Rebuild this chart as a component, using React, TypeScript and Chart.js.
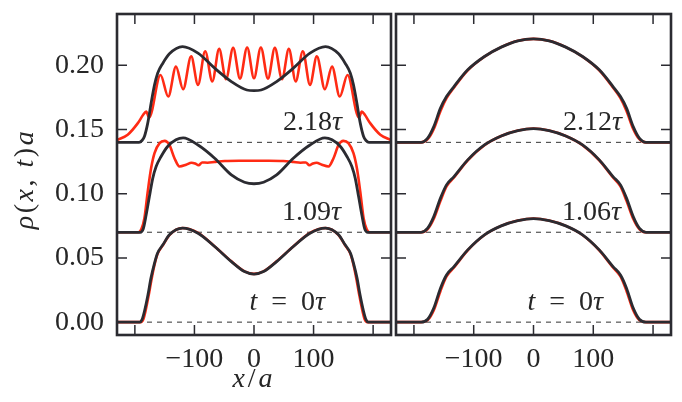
import { useEffect, useRef } from "react";
import { Chart, registerables } from "chart.js";
Chart.register(...registerables);

const FONT = "Liberation Serif, DejaVu Serif, serif";
const INK = "#262626";
const BLACK = "#2b2b31";
const RED = "#ff2b14";
const DASH = "#555555";

// ---- axes ----
const xTicks = [-200, -100, 0, 100, 200];
const xTickLabels = ["", "\u2212100", "0", "100", ""];
const yTicks = [0, 0.05, 0.1, 0.15, 0.2];
const yTickLabels = ["0.00", "0.05", "0.10", "0.15", "0.20"];
const baselines = [0, 0.07, 0.14];

// ---- left panel ----
const xL0k = [-230,-192,-188,-184,-178,-173,-167,-162,-153,-142,-120,-94,-66,-38,-16,0,16,38,66,94,120,142,153,162,167,173,178,184,188,192,230];
const yL0k = [0,0,0.002,0.0083,0.0213,0.0343,0.046,0.0537,0.0602,0.068,0.0732,0.0693,0.0589,0.0472,0.0394,0.0374,0.0394,0.0472,0.0589,0.0693,0.0732,0.068,0.0602,0.0537,0.046,0.0343,0.0213,0.0083,0.002,0,0];
const xL0r = [-230,-190,-186,-182,-177,-172,-167,-162,-153,-142,-120,-94,-66,-38,-16,0,16,38,66,94,120,142,153,162,167,172,177,182,186,190,230];
const yL0r = [0,0,0.002,0.009,0.0205,0.0335,0.0448,0.053,0.0598,0.0678,0.0733,0.0695,0.059,0.0474,0.0396,0.0376,0.0396,0.0474,0.059,0.0695,0.0733,0.0678,0.0598,0.053,0.0448,0.0335,0.0205,0.009,0.002,0,0];

const xL1k = [-230,-191,-186,-181,-175.6,-170,-164.3,-156,-145,-131,-119,-94,-66,-38,-16,0,16,38,66,94,119,131,145,156,164.3,170,175.6,181,186,191,230];
const yL1k = [0.07,0.07,0.0725,0.0836,0.0978,0.112,0.1212,0.129,0.1368,0.142,0.1435,0.138,0.1277,0.1147,0.109,0.1078,0.109,0.1147,0.1277,0.138,0.1435,0.142,0.1368,0.129,0.1212,0.112,0.0978,0.0836,0.0725,0.07,0.07];
const xL1r = [-230,-194,-189,-184,-178.4,-172.7,-167,-158.5,-150,-142,-133.5,-125,-114,-105,-99,-93,-87,-78,-66,-49,-25,0,25,49,66,78,87,93,99,105,114,125,133.5,142,150,158.5,167,172.7,178.4,184,189,194,230];
const yL1r = [0.07,0.07,0.0725,0.081,0.1017,0.12,0.1316,0.1394,0.1412,0.138,0.1277,0.1212,0.1226,0.1242,0.1236,0.1222,0.1244,0.1242,0.1248,0.1255,0.1257,0.1257,0.1257,0.1255,0.1248,0.1242,0.1244,0.1222,0.1236,0.1242,0.1226,0.1212,0.1277,0.138,0.1412,0.1394,0.1316,0.12,0.1017,0.081,0.0725,0.07,0.07];

const xL2k = [-230,-193,-188,-184,-178.4,-172.7,-167,-161.6,-153,-142,-120,-94,-66,-38,-12,0,12,38,66,94,120,142,153,161.6,167,172.7,178.4,184,188,193,230];
const yL2k = [0.14,0.14,0.1415,0.1446,0.155,0.1706,0.1848,0.194,0.2017,0.209,0.2146,0.2095,0.1978,0.1874,0.1808,0.1803,0.1808,0.1874,0.1978,0.2095,0.2146,0.209,0.2017,0.194,0.1848,0.1706,0.155,0.1446,0.1415,0.14,0.14];
const xL2r = [-230,-212,-195,-186,-181,-176,-157,-144,-131,-119,-105.5,-94,-82,-70,-58.5,-47,-35,-23.5,-11.5,0,11.5,23.5,35,47,58.5,70,82,94,105.5,119,131,144,157,176,181,186,195,212,230];
const yL2r = [0.1418,0.146,0.155,0.1615,0.164,0.1595,0.1925,0.1757,0.199,0.1814,0.207,0.1848,0.211,0.1875,0.2128,0.1892,0.2136,0.1897,0.2139,0.19,0.2139,0.1897,0.2136,0.1892,0.2128,0.1875,0.211,0.1848,0.207,0.1814,0.199,0.1757,0.1925,0.1595,0.164,0.1615,0.155,0.146,0.1418];

// ---- right panel ----
const xR = [-230,-188,-177,-166.8,-155.6,-145.5,-133,-110,-82,-54,-26,0,26,54,82,110,133,145.5,155.6,166.8,177,188,230];
const yR0k = [0,0,0.0023,0.011,0.0265,0.0368,0.0433,0.0563,0.068,0.075,0.0791,0.0807,0.0791,0.075,0.068,0.0563,0.0433,0.0368,0.0265,0.011,0.0023,0,0];
const yR0r = [0,0,0.0016,0.0093,0.0243,0.0356,0.0426,0.056,0.0679,0.075,0.0791,0.0807,0.0791,0.075,0.0679,0.056,0.0426,0.0356,0.0243,0.0093,0.0016,0,0];
const yR1k = [0.07,0.07,0.0732,0.0822,0.0966,0.1069,0.1134,0.1264,0.138,0.145,0.1492,0.1508,0.1492,0.145,0.138,0.1264,0.1134,0.1069,0.0966,0.0822,0.0732,0.07,0.07];
const yR1r = [0.07,0.07,0.0725,0.0805,0.0945,0.1058,0.1127,0.1261,0.1379,0.145,0.1492,0.1508,0.1492,0.145,0.1379,0.1261,0.1127,0.1058,0.0945,0.0805,0.0725,0.07,0.07];
const yR2k = [0.14,0.14,0.1433,0.1523,0.1667,0.1757,0.1835,0.1965,0.2069,0.2142,0.2191,0.2206,0.2191,0.2142,0.2069,0.1965,0.1835,0.1757,0.1667,0.1523,0.1433,0.14,0.14];
const yR2r = [0.14,0.14,0.1425,0.1505,0.1645,0.1745,0.1828,0.1962,0.2068,0.2142,0.2191,0.2206,0.2191,0.2142,0.2068,0.1962,0.1828,0.1745,0.1645,0.1505,0.1425,0.14,0.14];

const pts = (xs: number[], ys: number[]) => xs.map((x, i) => ({ x, y: ys[i] }));

type Seg = { t: string; i?: boolean };
type Label = { segs: Seg[]; x: number; y: number; size: number; align: "right" | "center" | "left"; rotate?: boolean; spacing?: number };

function drawSegs(ctx: CanvasRenderingContext2D, l: Label) {
  const fontOf = (it?: boolean) => `${it ? "italic " : ""}${l.size}px ${FONT}`;
  const sp = l.spacing || 0;
  const widths = l.segs.map((s) => {
    ctx.font = fontOf(s.i);
    return ctx.measureText(s.t).width + sp * s.t.length;
  });
  const total = widths.reduce((a, b) => a + b, 0);
  ctx.save();
  ctx.translate(l.x, l.y);
  if (l.rotate) ctx.rotate(-Math.PI / 2);
  let cx = l.align === "right" ? -total : l.align === "center" ? -total / 2 : 0;
  ctx.textAlign = "left";
  ctx.textBaseline = "alphabetic";
  l.segs.forEach((s, k) => {
    ctx.font = fontOf(s.i);
    if (sp) {
      let xx = cx;
      for (const ch of s.t) {
        ctx.fillText(ch, xx, 0);
        xx += ctx.measureText(ch).width + sp;
      }
    } else {
      ctx.fillText(s.t, cx, 0);
    }
    cx += widths[k];
  });
  ctx.restore();
}

const decor = {
  id: "decor",
  afterDraw(chart: any, _args: any, opts: any) {
    const { ctx, chartArea: a } = chart;
    const x = chart.scales.x;
    const y = chart.scales.y;
    ctx.save();
    ctx.strokeStyle = BLACK;
    ctx.lineWidth = 1.5;
    ctx.beginPath();
    xTicks.forEach((v) => {
      const px = x.getPixelForValue(v);
      ctx.moveTo(px, a.bottom);
      ctx.lineTo(px, a.bottom - 10);
      ctx.moveTo(px, a.top);
      ctx.lineTo(px, a.top + 10);
    });
    yTicks.forEach((v) => {
      const py = y.getPixelForValue(v);
      ctx.moveTo(a.left, py);
      ctx.lineTo(a.left + 10, py);
      ctx.moveTo(a.right, py);
      ctx.lineTo(a.right - 10, py);
    });
    ctx.stroke();
    ctx.lineWidth = 2.6;
    ctx.strokeRect(a.left, a.top, a.right - a.left, a.bottom - a.top);
    ctx.fillStyle = INK;
    (opts.labels || []).forEach((l: Label) => drawSegs(ctx, l));
    ctx.restore();
  },
};

function makeConfig(curves: { k: { x: number; y: number }[]; r: { x: number; y: number }[] }[], side: "left" | "right", labels: Label[]): any {
  const datasets: any[] = [];
  curves.forEach((c) => {
    datasets.push({ data: c.k, borderColor: BLACK, borderWidth: 2.8, order: 0, cubicInterpolationMode: "monotone", pointRadius: 0 });
  });
  curves.forEach((c) => {
    datasets.push({ data: c.r, borderColor: RED, borderWidth: 2.6, order: 1, cubicInterpolationMode: "monotone", pointRadius: 0 });
  });
  baselines.forEach((b) => {
    datasets.push({ data: pts([-230, 230], [b, b]), borderColor: DASH, borderWidth: 1.2, borderDash: [5, 5], order: 2, pointRadius: 0 });
  });
  const isLeft = side === "left";
  return {
    type: "line",
    data: { datasets },
    plugins: [decor],
    options: {
      responsive: false,
      animation: false,
      events: [],
      layout: { padding: { left: isLeft ? 0 : 2, right: isLeft ? 3 : 11, top: 14, bottom: 0 } },
      plugins: { legend: { display: false }, tooltip: { enabled: false }, decor: { labels } },
      scales: {
        x: {
          type: "linear",
          min: -230,
          max: 230,
          grid: { display: false, drawTicks: false },
          border: { display: false },
          afterBuildTicks: (s: any) => {
            s.ticks = xTicks.map((v) => ({ value: v }));
          },
          afterFit: (s: any) => {
            s.height = 67;
            s.paddingLeft = 0;
            s.paddingRight = 0;
          },
          ticks: {
            callback: (_v: any, i: number) => xTickLabels[i],
            autoSkip: false,
            maxRotation: 0,
            padding: 8,
            font: { family: FONT, size: 28 },
            color: INK,
          },
        },
        y: {
          type: "linear",
          min: -0.01,
          max: 0.24,
          grid: { display: false, drawTicks: false },
          border: { display: false },
          afterBuildTicks: (s: any) => {
            s.ticks = yTicks.map((v) => ({ value: v }));
          },
          afterFit: (s: any) => {
            s.width = isLeft ? 117 : 0;
            s.paddingTop = 0;
            s.paddingBottom = 0;
          },
          ticks: {
            display: isLeft,
            callback: (_v: any, i: number) => yTickLabels[i],
            padding: 13,
            font: { family: FONT, size: 28 },
            color: INK,
          },
        },
      },
    },
  };
}

const tau = (num: string): Seg[] => [{ t: num }, { t: "\u03c4", i: true }];
const tZero: Seg[] = [{ t: "t", i: true }, { t: "\u2002=\u2002" }, { t: "0" }, { t: "\u03c4", i: true }];

export default function App() {
  const leftRef = useRef<HTMLCanvasElement>(null);
  const rightRef = useRef<HTMLCanvasElement>(null);

  useEffect(() => {
    const leftLabels: Label[] = [
      { segs: tau("2.18"), x: 342, y: 130, size: 28, align: "right" },
      { segs: tau("1.09"), x: 341, y: 220, size: 28, align: "right" },
      { segs: tZero, x: 325, y: 310, size: 28, align: "right" },
      { segs: [{ t: "x", i: true }, { t: "/" }, { t: "a", i: true }], x: 254, y: 387, size: 28, align: "center", spacing: 3 },
      {
        segs: [{ t: "\u03c1", i: true }, { t: "(" }, { t: "x", i: true }, { t: ", " }, { t: "t", i: true }, { t: ")" }, { t: "a", i: true }],
        x: 33, y: 179, size: 28, align: "center", rotate: true, spacing: 2.5,
      },
    ];
    const off = 394;
    const rightLabels: Label[] = [
      { segs: tau("2.12"), x: 622 - off, y: 130, size: 28, align: "right" },
      { segs: tau("1.06"), x: 621 - off, y: 220, size: 28, align: "right" },
      { segs: tZero, x: 603 - off, y: 310, size: 28, align: "right" },
    ];
    const left = new Chart(
      leftRef.current!,
      makeConfig(
        [
          { k: pts(xL0k, yL0k), r: pts(xL0r, yL0r) },
          { k: pts(xL1k, yL1k), r: pts(xL1r, yL1r) },
          { k: pts(xL2k, yL2k), r: pts(xL2r, yL2r) },
        ],
        "left",
        leftLabels
      )
    );
    const right = new Chart(
      rightRef.current!,
      makeConfig(
        [
          { k: pts(xR, yR0k), r: pts(xR, yR0r) },
          { k: pts(xR, yR1k), r: pts(xR, yR1r) },
          { k: pts(xR, yR2k), r: pts(xR, yR2r) },
        ],
        "right",
        rightLabels
      )
    );
    return () => {
      left.destroy();
      right.destroy();
    };
  }, []);

  return (
    <div style={{ position: "fixed", left: 0, top: 0, width: 682, height: 402, background: "#fff", overflow: "hidden" }}>
      <div style={{ position: "absolute", left: 0, top: 0, width: 394, height: 402 }}>
        <canvas ref={leftRef} width={394} height={402} />
      </div>
      <div style={{ position: "absolute", left: 394, top: 0, width: 288, height: 402 }}>
        <canvas ref={rightRef} width={288} height={402} />
      </div>
    </div>
  );
}
